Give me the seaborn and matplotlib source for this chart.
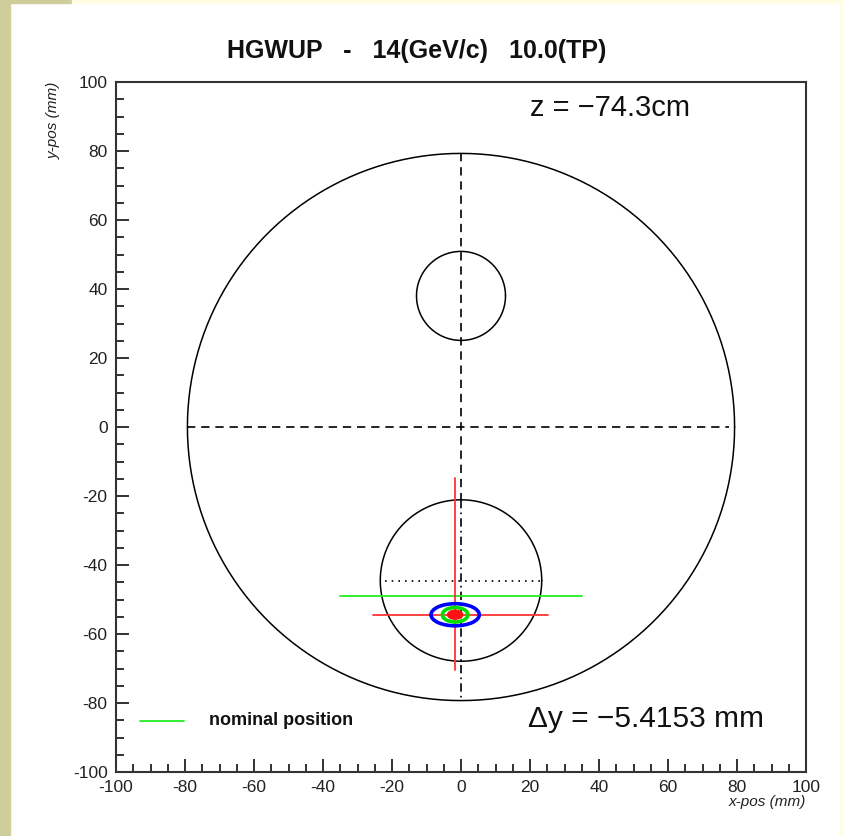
import numpy as np
import pandas as pd
import seaborn as sns
import matplotlib.pyplot as plt
from matplotlib.patches import Ellipse, Rectangle
from matplotlib.ticker import MultipleLocator

sns.set_style("white")
plt.rcParams['font.family'] = ['Liberation Sans', 'DejaVu Sans']
plt.rcParams['axes.unicode_minus'] = False

# Detector outline: circles given as centre (x, y) and radius, in mm
circle_names = ["aperture", "upper hole", "lower hole"]
circle_x = [0.0, 0.0, 0.0]
circle_y = [0.0, 38.0, -44.5]
circle_r = [79.3, 12.9, 23.4]

# Measured beam position
z_cm = -74.3
nominal_y = -49.0
nominal_half_width = 35.0
delta_y = -5.4153
beam_x = -1.7
beam_y = nominal_y + delta_y

# Error cross around the beam (mm)
cross_x_range = [-25.5, 25.2]
cross_y_range = [-14.8, -70.4]

# Beam spot contours: (width, height) in mm, outer to inner
spot_widths = [14.0, 7.4, 4.4]
spot_heights = [6.4, 4.2, 2.6]
spot_colors = ["#0000ff", "#00dd00", "#ff1111"]

title = "HGWUP   -   14(GeV/c)   10.0(TP)"


def seg(x, y, **kw):
    """Draw a straight segment through seaborn without aggregation."""
    sns.lineplot(x=x, y=y, sort=False, estimator=None, ax=ax, **kw)


fig = plt.figure(figsize=(8.43, 8.36), dpi=100, facecolor="white")
ax = fig.add_axes([116 / 843, 64 / 836, 690 / 843, 690 / 836])
ax.set_facecolor("white")

# Page border strips
fig.patches.append(Rectangle((0, 0), 10 / 843, 1, transform=fig.transFigure,
                             color="#cfcd9c", zorder=0))
fig.patches.append(Rectangle((10 / 843, 1 - 3 / 836), 62 / 843, 3 / 836,
                             transform=fig.transFigure, color="#cfcd9c", zorder=0))
fig.patches.append(Rectangle((72 / 843, 1 - 3 / 836), 1, 3 / 836,
                             transform=fig.transFigure, color="#fffde4", zorder=0))
fig.patches.append(Rectangle((840 / 843, 0), 3 / 843, 1, transform=fig.transFigure,
                             color="#fffde4", zorder=0))

# Circles
theta = np.linspace(0, 2 * np.pi, 361)
rows = []
for name, cx, cy, r in zip(circle_names, circle_x, circle_y, circle_r):
    for t in theta:
        rows.append({"name": name, "x": cx + r * np.cos(t), "y": cy + r * np.sin(t)})
circles = pd.DataFrame(rows)
for name, grp in circles.groupby("name"):
    seg(grp["x"].to_numpy(), grp["y"].to_numpy(), color="black", lw=1.1)

R = circle_r[0]
low_cy, low_r = circle_y[2], circle_r[2]

# Centre cross-hair of the aperture
seg([-R, R - 1.5], [0, 0], color="black", lw=1.2, linestyle=(0, (5, 3.5)))
seg([0, 0], [R, low_cy + low_r], color="black", lw=1.2, linestyle=(0, (5, 3.5)))
seg([0, 0], [low_cy + low_r, -R], color="black", lw=1.2,
    linestyle=(0, (5, 2.5, 1, 2.5)))
# Lower hole centre line
seg([-low_r + 1.5, low_r - 0.5], [low_cy, low_cy], color="black", lw=1.2,
    linestyle=(0, (1, 3)))

# Nominal position
seg([-nominal_half_width, nominal_half_width], [nominal_y, nominal_y],
    color="#22ee22", lw=1.3)

# Error cross
seg(cross_x_range, [beam_y, beam_y], color="#ff3333", lw=1.3)
seg([beam_x, beam_x], cross_y_range, color="#ff3333", lw=1.3)

# Beam spot contours
for i, (w, h, c) in enumerate(zip(spot_widths, spot_heights, spot_colors)):
    filled = i == len(spot_widths) - 1
    ax.add_patch(Ellipse((beam_x, beam_y), w, h, fill=filled,
                         facecolor=c if filled else "none",
                         edgecolor=c, lw=2.6 if not filled else 1.0, zorder=5))

# Axes
ax.set_xlim(-100, 100)
ax.set_ylim(-100, 100)
ax.xaxis.set_major_locator(MultipleLocator(20))
ax.yaxis.set_major_locator(MultipleLocator(20))
ax.xaxis.set_minor_locator(MultipleLocator(5))
ax.yaxis.set_minor_locator(MultipleLocator(5))
ax.tick_params(which="both", direction="in", top=False, right=False,
               bottom=True, left=True, color="#222222", width=1.3,
               labelsize=12.5, labelcolor="#222222")
ax.tick_params(axis="x", which="major", length=9.5, pad=6)
ax.tick_params(axis="y", which="major", length=9.5, pad=6)
ax.tick_params(which="minor", length=5.5)
for s in ax.spines.values():
    s.set_color("#333333")
    s.set_linewidth(1.5)
ax.set_xlabel("")
ax.set_ylabel("")

fig.text(806 / 843, 1 - 802 / 836, "x-pos (mm)", ha="right", va="center",
         fontsize=11, style="italic", color="#222222")
fig.text(54 / 843, 1 - 82 / 836, "y-pos (mm)", ha="center", va="top",
         rotation=90, fontsize=11, style="italic", color="#222222")

fig.text(417 / 843, 1 - 51 / 836, title, ha="center", va="center",
         fontsize=18, fontweight="bold", color="#111111")

ax.text(20, 92.5, f"z = \u2212{abs(z_cm):.1f}cm", ha="left", va="center",
        fontsize=21, color="#111111")
ax.text(19.5, -84.5, f"\u0394y = \u2212{abs(delta_y):.4f} mm", ha="left",
        va="center", fontsize=21.5, color="#111111")

# Legend
ax.plot([0.035, 0.099], [0.074, 0.074], transform=ax.transAxes,
        color="#22ee22", lw=1.3)
ax.text(0.135, 0.074, "nominal position", transform=ax.transAxes, ha="left",
        va="center", fontsize=13, fontweight="bold", color="#111111")

fig.savefig("out.png", dpi=100, facecolor=fig.get_facecolor())
